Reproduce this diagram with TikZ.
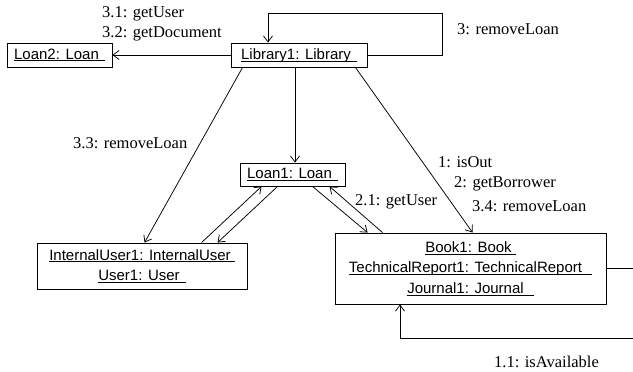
\documentclass[tikz,border=0pt]{standalone}
\usepackage{fontspec}
\setmainfont{Liberation Serif}
\newfontfamily\boxfont{Liberation Sans}
\usetikzlibrary{arrows.meta}
\newcommand{\ulbox}[2][6pt]{\underline{\raisebox{0pt}[\height][0pt]{#2}\hspace{#1}}}
\begin{document}
\begin{tikzpicture}[x=1pt,y=-1pt,
  obj/.style={draw, line width=0.9pt, inner sep=0pt, align=center,
    font=\boxfont\fontsize{15}{20.5}\selectfont},
  arr/.style={line width=0.75pt, -{Straight Barb[length=6pt,width=9pt]}},
  lbl/.style={font=\fontsize{16.5}{20}\selectfont, inner sep=0pt, anchor=west}]
\clip (0,0) rectangle (633,372);
\fill[white] (0,0) rectangle (633,372);
% objects
\node[obj, minimum width=105pt, minimum height=24pt] (loan2) at (59.5,55) {\ulbox{Loan2: Loan}};
\node[obj, minimum width=136pt, minimum height=24pt] (lib) at (299,55) {\ulbox{Library1: Library}};
\node[obj, minimum width=105pt, minimum height=23pt] (loan1) at (292.5,174.5) {\ulbox{Loan1: Loan}};
\node[obj, minimum width=210pt, minimum height=46pt] (iu) at (142,266) {\ulbox[4pt]{InternalUser1: InternalUser}\\ \ulbox{User1: User}};
\node[obj, minimum width=271pt, minimum height=71pt] (book) at (470.5,268.5) {\ulbox[4pt]{Book1: Book}\\ \ulbox[10pt]{TechnicalReport1: TechnicalReport}\\ \ulbox[10pt]{Journal1: Journal}};
\coordinate (libloop) at (442,13);
\coordinate (bookloop) at (640,338);
% connectors
\draw[arr] (lib.east) -| (libloop) -| ([xshift=-31pt]lib.north);
\draw[arr] (lib.west) -- (loan2.east);
\draw[arr] ([xshift=-4pt]lib.south) -- ([xshift=-4pt]lib.south |- loan1.north);
\draw[arr] ([xshift=12pt]lib.south west) -- ([xshift=108pt]iu.north west);
\draw[arr] ([xshift=-12pt]lib.south east) -- ([xshift=138pt]book.north west);
\draw[arr] ([xshift=165pt]iu.north west) -- ([xshift=22pt]loan1.south west);
\draw[arr] ([xshift=38pt]loan1.south west) -- ([xshift=181pt]iu.north west);
\draw[arr] ([xshift=73pt]loan1.south west) -- ([xshift=33pt]book.north west);
\draw[arr] ([xshift=48pt]book.north west) -- ([xshift=90pt]loan1.south west);
\draw[arr] (book.east) -| (bookloop) -| ([xshift=-70.5pt]book.south);
% labels
\node[lbl] (l31) at (102,14) {3.1: getUser};
\node[lbl] (l32) at (102,34) {3.2: getDocument};
\node[lbl] (l3) at (457,29) {3: removeLoan};
\node[lbl] (l33) at (73,143) {3.3: removeLoan};
\node[lbl] (l1) at (438,162) {1: isOut};
\node[lbl] (l2) at (454,184) {2: getBorrower};
\node[lbl] (l34) at (472,206) {3.4: removeLoan};
\node[lbl] (l21) at (355,202) {2.1: getUser};
\node[lbl] (l11) at (494,362) {1.1: isAvailable};
\end{tikzpicture}
\end{document}
